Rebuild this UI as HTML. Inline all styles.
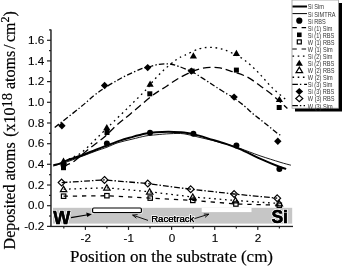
<!DOCTYPE html>
<html><head><meta charset="utf-8"><style>
html,body{margin:0;padding:0;background:#fff;width:342px;height:266px;overflow:hidden}
svg{display:block;will-change:transform;font-family:"Liberation Sans",sans-serif}
</style></head><body>
<svg width="342" height="266" viewBox="0 0 342 266">
<rect x="53" y="207.8" width="239.2" height="15.8" fill="#c6c6c6"/>
<rect x="201.7" y="207.8" width="49.8" height="4.3" fill="#fff"/>
<rect x="91.6" y="207.0" width="50.8" height="7.0" rx="1.8" fill="#fff"/>
<rect x="92.6" y="208.0" width="48.8" height="4.6" rx="1.2" fill="#fff" stroke="#000" stroke-width="1.2"/>
<text x="53.3" y="223.7" font-family="Liberation Sans" font-weight="bold" font-size="18" fill="#000" stroke="#fff" stroke-width="2" stroke-linejoin="round" paint-order="stroke">W</text>
<text x="53.3" y="223.7" font-family="Liberation Sans" font-weight="bold" font-size="18" fill="#000" stroke="#000" stroke-width="0.5">W</text>
<text x="271.4" y="222.8" font-family="Liberation Sans" font-weight="bold" font-size="17.5" fill="#000" stroke="#fff" stroke-width="2" stroke-linejoin="round" paint-order="stroke">Si</text>
<text x="271.4" y="222.8" font-family="Liberation Sans" font-weight="bold" font-size="17.5" fill="#000" stroke="#000" stroke-width="0.5">Si</text>
<path d="M71,217.6 L88,214.8" stroke="#000" stroke-width="1.1"/>
<polygon points="91.8,214.2 86.2,212.6 87.2,217.0" fill="#000"/>
<text x="151.2" y="221.6" font-family="Liberation Sans" font-size="9.6" fill="#000" stroke="#fff" stroke-width="1.6" stroke-linejoin="round" paint-order="stroke">Racetrack</text>
<text x="151.2" y="221.6" font-family="Liberation Sans" font-size="9.6" fill="#000" stroke="#000" stroke-width="0.25">Racetrack</text>
<path d="M148,220.4 L132.6,215.1 M132.6,215.1 L137.6,214.6 M132.6,215.1 L136.4,218.2" stroke="#000" stroke-width="0.9" fill="none"/>
<path d="M194.5,218.6 L208.8,214.2 M208.8,214.2 L203.8,214.0 M208.8,214.2 L205.0,217.4" stroke="#000" stroke-width="0.9" fill="none"/>
<rect x="50" y="29.5" width="1.9" height="197.5" fill="#555"/>
<rect x="50" y="225.8" width="243" height="1.3" fill="#222"/>
<rect x="47" y="225.8" width="4" height="1.2" fill="#222"/>
<rect x="49" y="215.4" width="2" height="1.2" fill="#222"/>
<text x="44.3" y="230.0" text-anchor="end" font-family="Liberation Sans" font-size="11.7" stroke="#000" stroke-width="0.12">-0.2</text>
<rect x="47" y="205.1" width="4" height="1.2" fill="#222"/>
<rect x="49" y="194.8" width="2" height="1.2" fill="#222"/>
<text x="44.3" y="209.3" text-anchor="end" font-family="Liberation Sans" font-size="11.7" stroke="#000" stroke-width="0.12">0.0</text>
<rect x="47" y="184.4" width="4" height="1.2" fill="#222"/>
<rect x="49" y="174.1" width="2" height="1.2" fill="#222"/>
<text x="44.3" y="188.6" text-anchor="end" font-family="Liberation Sans" font-size="11.7" stroke="#000" stroke-width="0.12">0.2</text>
<rect x="47" y="163.7" width="4" height="1.2" fill="#222"/>
<rect x="49" y="153.4" width="2" height="1.2" fill="#222"/>
<text x="44.3" y="167.9" text-anchor="end" font-family="Liberation Sans" font-size="11.7" stroke="#000" stroke-width="0.12">0.4</text>
<rect x="47" y="143.1" width="4" height="1.2" fill="#222"/>
<rect x="49" y="132.7" width="2" height="1.2" fill="#222"/>
<text x="44.3" y="147.3" text-anchor="end" font-family="Liberation Sans" font-size="11.7" stroke="#000" stroke-width="0.12">0.6</text>
<rect x="47" y="122.4" width="4" height="1.2" fill="#222"/>
<rect x="49" y="112.0" width="2" height="1.2" fill="#222"/>
<text x="44.3" y="126.6" text-anchor="end" font-family="Liberation Sans" font-size="11.7" stroke="#000" stroke-width="0.12">0.8</text>
<rect x="47" y="101.7" width="4" height="1.2" fill="#222"/>
<rect x="49" y="91.4" width="2" height="1.2" fill="#222"/>
<text x="44.3" y="105.9" text-anchor="end" font-family="Liberation Sans" font-size="11.7" stroke="#000" stroke-width="0.12">1.0</text>
<rect x="47" y="81.0" width="4" height="1.2" fill="#222"/>
<rect x="49" y="70.7" width="2" height="1.2" fill="#222"/>
<text x="44.3" y="85.2" text-anchor="end" font-family="Liberation Sans" font-size="11.7" stroke="#000" stroke-width="0.12">1.2</text>
<rect x="47" y="60.3" width="4" height="1.2" fill="#222"/>
<rect x="49" y="50.0" width="2" height="1.2" fill="#222"/>
<text x="44.3" y="64.5" text-anchor="end" font-family="Liberation Sans" font-size="11.7" stroke="#000" stroke-width="0.12">1.4</text>
<rect x="47" y="39.7" width="4" height="1.2" fill="#222"/>
<rect x="49" y="29.3" width="2" height="1.2" fill="#222"/>
<text x="44.3" y="43.9" text-anchor="end" font-family="Liberation Sans" font-size="11.7" stroke="#000" stroke-width="0.12">1.6</text>
<rect x="84.8" y="226.5" width="1.2" height="3.4" fill="#222"/>
<text x="85.7" y="241.6" text-anchor="middle" font-family="Liberation Sans" font-size="11.7" stroke="#000" stroke-width="0.12">-2</text>
<rect x="127.9" y="226.5" width="1.2" height="3.4" fill="#222"/>
<text x="128.8" y="241.6" text-anchor="middle" font-family="Liberation Sans" font-size="11.7" stroke="#000" stroke-width="0.12">-1</text>
<rect x="171.0" y="226.5" width="1.2" height="3.4" fill="#222"/>
<text x="171.9" y="241.6" text-anchor="middle" font-family="Liberation Sans" font-size="11.7" stroke="#000" stroke-width="0.12">0</text>
<rect x="214.1" y="226.5" width="1.2" height="3.4" fill="#222"/>
<text x="215.0" y="241.6" text-anchor="middle" font-family="Liberation Sans" font-size="11.7" stroke="#000" stroke-width="0.12">1</text>
<rect x="257.2" y="226.5" width="1.2" height="3.4" fill="#222"/>
<text x="258.1" y="241.6" text-anchor="middle" font-family="Liberation Sans" font-size="11.7" stroke="#000" stroke-width="0.12">2</text>
<rect x="63.2" y="226.5" width="1.2" height="2" fill="#222"/>
<rect x="106.3" y="226.5" width="1.2" height="2" fill="#222"/>
<rect x="149.4" y="226.5" width="1.2" height="2" fill="#222"/>
<rect x="192.6" y="226.5" width="1.2" height="2" fill="#222"/>
<rect x="235.7" y="226.5" width="1.2" height="2" fill="#222"/>
<rect x="278.8" y="226.5" width="1.2" height="2" fill="#222"/>
<text x="70.0" y="262.3" font-family="Liberation Serif" font-size="17" stroke="#000" stroke-width="0.2">Position on the substrate (cm)</text>
<text transform="translate(15.4,249.4) rotate(-90)" x="0" y="0" font-family="Liberation Serif" font-size="16" stroke="#000" stroke-width="0.2">Deposited atoms <tspan dx="1.5">(x10</tspan><tspan dy="-3.7" font-size="14.5">18</tspan><tspan dy="3.7"> atoms</tspan><tspan dx="1.8">/</tspan><tspan dx="2.5">cm</tspan><tspan dy="-6.9" font-size="12">2</tspan><tspan dy="6.9">)</tspan></text>
<path d="M53.3,166.0 C55.8,165.2 63.2,163.1 68.0,161.5 C72.8,159.9 77.3,158.1 82.0,156.3 C86.7,154.6 91.8,152.5 96.0,151.0 C100.2,149.5 103.3,148.6 107.0,147.2 C110.7,145.8 113.8,144.0 118.0,142.7 C122.2,141.4 127.3,140.3 132.0,139.2 C136.7,138.1 142.0,136.6 146.0,135.9 C150.0,135.2 152.0,135.2 156.0,134.8 C160.0,134.4 165.3,133.9 170.0,133.7 C174.7,133.5 179.3,133.2 184.0,133.8 C188.7,134.4 193.3,135.9 198.0,137.0 C202.7,138.1 207.3,139.1 212.0,140.3 C216.7,141.5 221.3,142.7 226.0,144.0 C230.7,145.3 234.3,146.4 240.0,148.4 C245.7,150.4 253.3,153.5 260.0,155.8 C266.7,158.1 274.9,160.6 280.0,162.2 C285.1,163.8 289.1,164.7 290.9,165.2" fill="none" stroke="#000" stroke-width="0.9"/>
<path d="M53.3,165.3 C54.5,165.0 58.0,164.3 60.5,163.4 C63.0,162.5 64.4,161.3 68.0,160.0 C71.6,158.7 77.3,157.0 82.0,155.3 C86.7,153.6 91.8,151.3 96.0,149.7 C100.2,148.1 103.0,147.0 107.0,145.5 C111.0,144.0 115.8,142.0 120.0,140.6 C124.2,139.2 127.7,138.3 132.0,137.1 C136.3,135.9 142.0,134.4 146.0,133.6 C150.0,132.8 152.3,132.6 156.0,132.3 C159.7,132.0 163.3,131.8 168.0,131.8 C172.7,131.9 179.0,132.0 184.0,132.6 C189.0,133.2 193.3,134.2 198.0,135.4 C202.7,136.6 207.3,138.2 212.0,139.6 C216.7,141.0 221.3,142.3 226.0,143.9 C230.7,145.5 234.3,146.8 240.0,149.2 C245.7,151.6 253.3,155.6 260.0,158.6 C266.7,161.6 275.6,165.3 280.0,167.0 C284.4,168.7 285.2,168.6 286.2,168.9" fill="none" stroke="#000" stroke-width="2.0"/>
<path d="M63.5,167.2 C64.2,166.8 65.6,165.6 67.4,164.6 C69.2,163.6 70.6,163.8 74.2,161.2 C77.8,158.5 84.2,152.6 89.1,148.7 C94.0,144.8 99.3,141.3 103.8,137.5 C108.3,133.7 111.6,129.7 116.0,125.8 C120.4,121.9 124.6,118.8 130.4,113.9 C136.2,109.0 146.4,100.2 151.1,96.5 C155.8,92.8 155.7,93.1 158.3,91.4 C160.9,89.7 163.2,88.4 166.6,86.2 C170.0,84.0 174.4,80.7 178.6,78.3 C182.8,75.9 188.4,73.2 192.0,71.6 C195.6,70.0 197.0,69.5 200.0,68.8 C203.0,68.1 206.7,67.4 210.0,67.3 C213.3,67.2 216.7,67.3 220.0,67.9 C223.3,68.5 225.5,69.4 230.0,70.9 C234.5,72.4 241.7,74.2 246.9,76.8 C252.1,79.4 256.8,83.5 261.0,86.5 C265.2,89.5 267.9,91.2 272.3,94.9 C276.7,98.6 284.9,106.2 287.4,108.4" fill="none" stroke="#000" stroke-width="1.3" stroke-dasharray="7.5 4"/>
<path d="M64.0,161.5 C65.3,160.8 69.2,159.0 72.0,157.6 C74.8,156.2 77.9,155.1 80.5,153.3 C83.1,151.5 85.4,149.2 87.8,147.0 C90.2,144.8 92.5,142.4 94.9,140.0 C97.4,137.6 100.0,135.0 102.5,132.6 C105.0,130.2 105.3,129.8 109.6,125.6 C113.8,121.4 121.9,113.7 128.0,107.7 C134.1,101.7 142.2,93.8 146.4,89.4 C150.6,85.0 150.2,84.4 153.0,81.2 C155.8,78.0 159.6,73.9 163.5,70.3 C167.4,66.7 172.8,62.2 176.3,59.7 C179.8,57.2 180.9,57.1 184.7,55.3 C188.5,53.5 195.0,50.1 199.3,48.8 C203.6,47.5 206.7,47.4 210.3,47.4 C213.9,47.4 217.5,47.9 221.1,48.8 C224.7,49.7 227.9,51.1 231.7,52.9 C235.5,54.7 239.7,56.5 244.1,59.7 C248.5,63.0 253.5,67.7 258.2,72.4 C262.9,77.1 267.4,83.1 272.3,87.9 C277.2,92.7 285.0,98.8 287.5,101.0" fill="none" stroke="#000" stroke-width="1.3" stroke-dasharray="1.7 3.7"/>
<path d="M54.7,127.4 C58.9,124.1 73.5,112.9 80.0,107.6 C86.5,102.3 89.9,98.9 94.0,95.6 C98.1,92.3 100.6,90.6 104.5,88.0 C108.4,85.4 114.0,82.2 117.5,80.2 C121.0,78.2 122.8,77.2 125.5,75.9 C128.2,74.6 130.9,73.3 133.6,72.1 C136.3,70.9 139.3,69.5 141.7,68.7 C144.0,67.9 144.8,68.0 147.7,67.3 C150.6,66.6 155.3,64.8 159.0,64.3 C162.7,63.8 166.7,63.7 170.0,64.0 C173.3,64.3 175.0,65.0 178.6,66.3 C182.2,67.5 188.3,70.1 191.4,71.5 C194.5,72.9 194.6,73.1 197.3,74.8 C200.0,76.5 204.3,79.3 207.5,81.4 C210.7,83.5 212.9,85.0 216.3,87.2 C219.7,89.4 225.0,92.7 228.0,94.5 C231.0,96.3 231.4,96.1 234.1,98.0 C236.8,99.9 241.2,103.3 244.3,105.9 C247.4,108.5 249.8,111.1 252.6,113.4 C255.3,115.8 258.1,117.8 260.8,120.0 C263.6,122.2 266.3,124.4 269.1,126.6 C271.9,128.8 275.3,131.8 277.4,133.3 C279.5,134.8 280.8,135.3 281.5,135.7" fill="none" stroke="#000" stroke-width="1.3" stroke-dasharray="5.4 2.2 1.4 2.2"/>
<path d="M63.6,196.2 L106.9,195.7 L150.2,198.1 L192.8,200.4 L235.9,204.0 L279.3,205.2" fill="none" stroke="#000" stroke-width="1.3" stroke-dasharray="4.3 4.9"/>
<path d="M63.6,189.2 L106.9,187.8 L149.7,191.8 L192.8,197.0 L235.5,200.5 L279.3,203.5" fill="none" stroke="#000" stroke-width="1.3" stroke-dasharray="1.7 3.7"/>
<path d="M61.6,182.6 L104.5,179.9 L147.8,183.6 L190.7,189.2 L234.1,194.0 L277.2,198.2" fill="none" stroke="#000" stroke-width="1.3" stroke-dasharray="5.8 2 1.5 2"/>
<circle cx="63.5" cy="165.0" r="3" fill="#000"/>
<circle cx="106.9" cy="143.4" r="3" fill="#000"/>
<circle cx="150.0" cy="132.8" r="3" fill="#000"/>
<circle cx="193.4" cy="133.8" r="3" fill="#000"/>
<circle cx="236.4" cy="145.5" r="3" fill="#000"/>
<circle cx="279.4" cy="168.9" r="3" fill="#000"/>
<rect x="61.0" y="165.2" width="5" height="5" fill="#000"/>
<rect x="104.5" y="130.0" width="5" height="5" fill="#000"/>
<rect x="147.3" y="91.3" width="5" height="5" fill="#000"/>
<rect x="189.7" y="68.6" width="5" height="5" fill="#000"/>
<rect x="233.9" y="67.6" width="5" height="5" fill="#000"/>
<rect x="276.7" y="105.0" width="5" height="5" fill="#000"/>
<polygon points="63.5,157.6 67.1,163.8 59.9,163.8" fill="#000"/>
<polygon points="106.8,124.1 110.4,130.3 103.2,130.3" fill="#000"/>
<polygon points="150.1,80.6 153.7,86.8 146.5,86.8" fill="#000"/>
<polygon points="193.4,52.2 197.0,58.4 189.8,58.4" fill="#000"/>
<polygon points="236.4,49.7 240.0,55.9 232.8,55.9" fill="#000"/>
<polygon points="279.4,95.9 283.0,102.1 275.8,102.1" fill="#000"/>
<polygon points="61.9,122.1 65.6,125.8 61.9,129.5 58.2,125.8" fill="#000"/>
<polygon points="104.6,81.8 108.3,85.5 104.6,89.2 100.9,85.5" fill="#000"/>
<polygon points="147.7,63.9 151.4,67.6 147.7,71.3 144.0,67.6" fill="#000"/>
<polygon points="191.4,67.4 195.1,71.1 191.4,74.8 187.7,71.1" fill="#000"/>
<polygon points="234.1,93.4 237.8,97.1 234.1,100.8 230.4,97.1" fill="#000"/>
<polygon points="277.8,137.6 281.5,141.3 277.8,145.0 274.1,141.3" fill="#000"/>
<rect x="61.4" y="194.0" width="4.4" height="4.4" fill="none" stroke="#000" stroke-width="1.2"/>
<rect x="104.7" y="193.5" width="4.4" height="4.4" fill="none" stroke="#000" stroke-width="1.2"/>
<rect x="148.0" y="195.9" width="4.4" height="4.4" fill="none" stroke="#000" stroke-width="1.2"/>
<rect x="190.6" y="198.2" width="4.4" height="4.4" fill="none" stroke="#000" stroke-width="1.2"/>
<rect x="233.7" y="201.8" width="4.4" height="4.4" fill="none" stroke="#000" stroke-width="1.2"/>
<rect x="277.1" y="203.0" width="4.4" height="4.4" fill="none" stroke="#000" stroke-width="1.2"/>
<polygon points="63.6,186.2 66.8,191.6 60.4,191.6" fill="none" stroke="#000" stroke-width="1.2" stroke-linejoin="miter"/>
<polygon points="106.9,184.8 110.1,190.2 103.7,190.2" fill="none" stroke="#000" stroke-width="1.2" stroke-linejoin="miter"/>
<polygon points="149.7,188.8 152.9,194.2 146.5,194.2" fill="none" stroke="#000" stroke-width="1.2" stroke-linejoin="miter"/>
<polygon points="192.8,194.0 196.0,199.4 189.6,199.4" fill="none" stroke="#000" stroke-width="1.2" stroke-linejoin="miter"/>
<polygon points="235.5,197.5 238.7,202.9 232.3,202.9" fill="none" stroke="#000" stroke-width="1.2" stroke-linejoin="miter"/>
<polygon points="279.3,200.5 282.5,205.9 276.1,205.9" fill="none" stroke="#000" stroke-width="1.2" stroke-linejoin="miter"/>
<polygon points="61.6,179.2 65.0,182.6 61.6,186.0 58.2,182.6" fill="none" stroke="#000" stroke-width="1.2"/>
<polygon points="104.5,176.5 107.9,179.9 104.5,183.3 101.1,179.9" fill="none" stroke="#000" stroke-width="1.2"/>
<polygon points="147.8,180.2 151.2,183.6 147.8,187.0 144.4,183.6" fill="none" stroke="#000" stroke-width="1.2"/>
<polygon points="190.7,185.8 194.1,189.2 190.7,192.6 187.3,189.2" fill="none" stroke="#000" stroke-width="1.2"/>
<polygon points="234.1,190.6 237.5,194.0 234.1,197.4 230.7,194.0" fill="none" stroke="#000" stroke-width="1.2"/>
<polygon points="277.2,194.8 280.6,198.2 277.2,201.6 273.8,198.2" fill="none" stroke="#000" stroke-width="1.2"/>
<rect x="295" y="3" width="47" height="108.5" fill="#000"/>
<rect x="292" y="0" width="46.5" height="108.2" fill="#fff" stroke="#999" stroke-width="0.8"/>
<text transform="translate(307.8,9.4) scale(0.85,1)" font-family="Liberation Sans" font-size="6.6" fill="#333">Si Sim</text>
<path d="M292.5,6.5 H307" stroke="#000" stroke-width="2"/>
<text transform="translate(307.8,16.5) scale(0.85,1)" font-family="Liberation Sans" font-size="6.6" fill="#333">Si SIMTRA</text>
<path d="M292.5,13.6 H307" stroke="#000" stroke-width="1"/>
<text transform="translate(307.8,23.6) scale(0.85,1)" font-family="Liberation Sans" font-size="6.6" fill="#333">Si RBS</text>
<circle cx="299.3" cy="20.7" r="3.1" fill="#000"/>
<text transform="translate(307.8,30.6) scale(0.85,1)" font-family="Liberation Sans" font-size="6.6" fill="#333">Si (1) Sim</text>
<path d="M292.3,27.7 H307" stroke="#000" stroke-width="1.2" stroke-dasharray="4.5 4.8"/>
<text transform="translate(307.8,37.7) scale(0.85,1)" font-family="Liberation Sans" font-size="6.6" fill="#333">Si (1) RBS</text>
<rect x="297.0" y="32.5" width="4.6" height="4.6" fill="#000"/>
<text transform="translate(307.8,44.8) scale(0.85,1)" font-family="Liberation Sans" font-size="6.6" fill="#333">W (1) RBS</text>
<rect x="297.3" y="39.9" width="4.0" height="4.0" fill="#fff" stroke="#000" stroke-width="1.2"/>
<text transform="translate(307.8,51.9) scale(0.85,1)" font-family="Liberation Sans" font-size="6.6" fill="#333">W (1) Sim</text>
<path d="M292.3,49.0 H307" stroke="#000" stroke-width="1.2" stroke-dasharray="4.5 4.8"/>
<text transform="translate(307.8,59.0) scale(0.85,1)" font-family="Liberation Sans" font-size="6.6" fill="#333">Si (2) Sim</text>
<path d="M292.5,56.1 H307" stroke="#000" stroke-width="1.4" stroke-dasharray="1.6 3.6"/>
<text transform="translate(307.8,66.0) scale(0.85,1)" font-family="Liberation Sans" font-size="6.6" fill="#333">Si (2) RBS</text>
<polygon points="299.3,59.8 302.9,65.8 295.7,65.8" fill="#000"/>
<text transform="translate(307.8,73.1) scale(0.85,1)" font-family="Liberation Sans" font-size="6.6" fill="#333">W (2) RBS</text>
<polygon points="299.3,67.1 302.6,72.7 296.0,72.7" fill="#fff" stroke="#000" stroke-width="1.2" stroke-linejoin="miter"/>
<text transform="translate(307.8,80.2) scale(0.85,1)" font-family="Liberation Sans" font-size="6.6" fill="#333">W (2) Sim</text>
<path d="M292.5,77.3 H307" stroke="#000" stroke-width="1.4" stroke-dasharray="1.6 3.6"/>
<text transform="translate(307.8,87.3) scale(0.85,1)" font-family="Liberation Sans" font-size="6.6" fill="#333">Si (3) Sim</text>
<path d="M292.3,84.4 H307" stroke="#000" stroke-width="1.2" stroke-dasharray="5.6 2 1.4 2.8"/>
<text transform="translate(307.8,94.4) scale(0.85,1)" font-family="Liberation Sans" font-size="6.6" fill="#333">Si (3) RBS</text>
<polygon points="299.3,88.0 303.1,91.5 299.3,95.0 295.5,91.5" fill="#000"/>
<text transform="translate(307.8,101.4) scale(0.85,1)" font-family="Liberation Sans" font-size="6.6" fill="#333">W (3) RBS</text>
<polygon points="299.3,95.4 302.8,98.5 299.3,101.6 295.8,98.5" fill="#fff" stroke="#000" stroke-width="1.2"/>
<text transform="translate(307.8,108.5) scale(0.85,1)" font-family="Liberation Sans" font-size="6.6" fill="#333">W (3) Sim</text>
<path d="M292.3,105.6 H307" stroke="#000" stroke-width="1.2" stroke-dasharray="5.6 2 1.4 2.3 1.4 3"/>
</svg>
</body></html>
